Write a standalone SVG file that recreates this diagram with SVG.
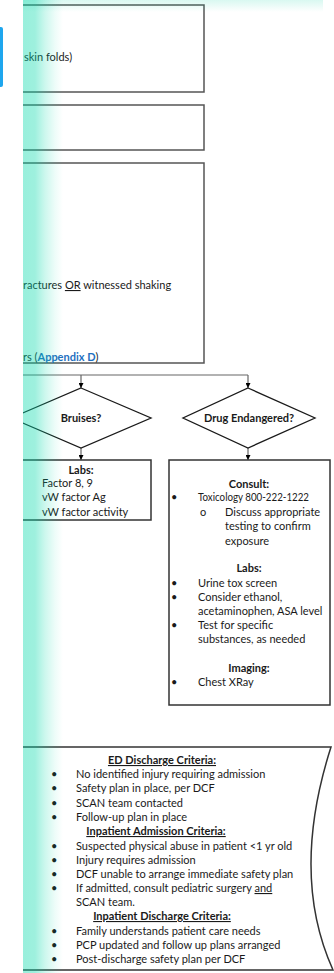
<svg xmlns="http://www.w3.org/2000/svg" width="334" height="973" viewBox="0 0 334 973">
  <style>
    text { font-family: Lato, "Liberation Sans", sans-serif; font-size: 11px; fill: #1a1a1a; }
    .b { font-weight: bold; }
    .c { text-anchor: middle; }
    .u { text-decoration: underline; }
    .link { fill: #1f6fc0; font-weight: bold; }
    .box { fill: #ffffff; stroke: #555555; stroke-width: 1.5; }
    .dbox { fill: #ffffff; stroke: #333333; stroke-width: 1.5; }
    .dia { fill: #ffffff; stroke: #1a1a1a; stroke-width: 1.3; }
    .wire { fill: none; stroke: #666666; stroke-width: 1.2; }
  </style>
  <defs>
    <clipPath id="page"><rect x="23" y="0" width="311" height="973"/></clipPath>
    <marker id="arrow" viewBox="0 0 10 10" refX="10" refY="5" markerWidth="5" markerHeight="5" orient="auto" markerUnits="userSpaceOnUse">
      <path d="M0,0 L10,5 L0,10 Z" fill="#000000"/>
    </marker>
    <linearGradient id="edgeFade" x1="0" y1="0" x2="1" y2="0">
      <stop offset="0" stop-color="#00d8a8" stop-opacity="0.4"/>
      <stop offset="0.3" stop-color="#00d8a8" stop-opacity="0.38"/>
      <stop offset="0.55" stop-color="#00d8a8" stop-opacity="0.2"/>
      <stop offset="0.8" stop-color="#00d8a8" stop-opacity="0.07"/>
      <stop offset="1" stop-color="#00d8a8" stop-opacity="0"/>
    </linearGradient>
    <linearGradient id="topFade" x1="0" y1="0" x2="0" y2="1">
      <stop offset="0" stop-color="#00d0a0" stop-opacity="0.15"/>
      <stop offset="1" stop-color="#00d0a0" stop-opacity="0"/>
    </linearGradient>
  </defs>

  <rect x="0" y="0" width="334" height="973" fill="#ffffff"/>

  <g clip-path="url(#page)">
    <!-- upper text boxes -->
    <g id="box-skin">
      <rect class="box" x="5" y="5" width="199" height="87"/>
      <text x="24" y="61">skin folds)</text>
    </g>
    <g id="box-middle">
      <rect class="box" x="5" y="105" width="199" height="45"/>
    </g>
    <g id="box-fractures">
      <rect class="box" x="5" y="163" width="199" height="200"/>
      <text x="23" y="289">ractures <tspan class="u">OR</tspan> witnessed shaking</text>
      <text x="23" y="361">rs (<tspan class="link">Appendix D</tspan>)</text>
    </g>

    <!-- connectors -->
    <g id="connectors">
      <polyline class="wire" points="5,375 248,375"/>
      <line class="wire" x1="81" y1="375" x2="81" y2="388" marker-end="url(#arrow)"/>
      <line class="wire" x1="248" y1="375" x2="248" y2="388" marker-end="url(#arrow)"/>
      <line class="wire" x1="81" y1="448" x2="81" y2="460" marker-end="url(#arrow)"/>
      <line class="wire" x1="248" y1="448" x2="248" y2="460" marker-end="url(#arrow)"/>
    </g>

    <!-- decisions -->
    <g id="dec-bruises">
      <polygon class="dia" points="81,388 151,418 81,448 11,418"/>
      <text class="b c" x="81" y="422">Bruises?</text>
    </g>
    <g id="dec-drug">
      <polygon class="dia" points="248,388 315,418 248,448 183,418"/>
      <text class="b c" x="249" y="422">Drug Endangered?</text>
    </g>

    <!-- bruise labs -->
    <g id="box-bruise-labs">
      <rect class="dbox" x="5" y="460" width="146" height="60"/>
      <text class="b c" x="81" y="474">Labs:</text>
      <text x="42" y="487">Factor 8, 9</text>
      <text x="42" y="501">vW factor Ag</text>
      <text x="42" y="516">vW factor activity</text>
    </g>

    <!-- drug endangered workup -->
    <g id="box-drug-workup">
      <rect class="dbox" x="169" y="460" width="161" height="245"/>
      <text class="b c" x="249" y="488">Consult:</text>
      <text x="171" y="501">•</text>
      <text x="198" y="501" textLength="111" lengthAdjust="spacingAndGlyphs">Toxicology 800-222-1222</text>
      <text x="200" y="516">o</text>
      <text x="225" y="516">Discuss appropriate</text>
      <text x="225" y="530">testing to confirm</text>
      <text x="225" y="545">exposure</text>
      <text class="b c" x="249" y="572">Labs:</text>
      <text x="171" y="587">•</text>
      <text x="198" y="587">Urine tox screen</text>
      <text x="171" y="601">•</text>
      <text x="198" y="601">Consider ethanol,</text>
      <text x="198" y="615">acetaminophen, ASA level</text>
      <text x="171" y="629">•</text>
      <text x="198" y="629">Test for specific</text>
      <text x="198" y="643">substances, as needed</text>
      <text class="b c" x="249" y="672">Imaging:</text>
      <text x="171" y="686">•</text>
      <text x="198" y="686">Chest XRay</text>
    </g>

    <!-- disposition criteria -->
    <g id="box-criteria">
      <path class="dbox" d="M5,747 L331,747 Q290,875 333,970 L5,970 Z"/>
      <text class="b c u" x="162" y="764">ED Discharge Criteria:</text>
      <text x="51" y="778">•</text><text x="76" y="778">No identified injury requiring admission</text>
      <text x="51" y="792">•</text><text x="76" y="792">Safety plan in place, per DCF</text>
      <text x="51" y="807">•</text><text x="76" y="807">SCAN team contacted</text>
      <text x="51" y="821">•</text><text x="76" y="821">Follow-up plan in place</text>
      <text class="b c u" x="156" y="835">Inpatient Admission Criteria:</text>
      <text x="51" y="850">•</text><text x="76" y="850">Suspected physical abuse in patient &lt;1 yr old</text>
      <text x="51" y="864">•</text><text x="76" y="864">Injury requires admission</text>
      <text x="51" y="878">•</text><text x="76" y="878">DCF unable to arrange immediate safety plan</text>
      <text x="51" y="892">•</text><text x="76" y="892">If admitted, consult pediatric surgery <tspan class="u">and</tspan></text>
      <text x="76" y="906">SCAN team.</text>
      <text class="b c u" x="162" y="920">Inpatient Discharge Criteria:</text>
      <text x="51" y="935">•</text><text x="76" y="935">Family understands patient care needs</text>
      <text x="51" y="949">•</text><text x="76" y="949">PCP updated and follow up plans arranged</text>
      <text x="51" y="963">•</text><text x="76" y="963">Post-discharge safety plan per DCF</text>
    </g>
  </g>

  <!-- page-edge tint -->
  <rect x="23" y="0" width="300" height="12" fill="url(#topFade)"/>
  <rect x="23" y="0" width="40" height="973" fill="url(#edgeFade)"/>
  <!-- side tab -->
  <rect x="-3" y="27" width="6" height="60" rx="2" fill="#1ea6ee"/>
</svg>
